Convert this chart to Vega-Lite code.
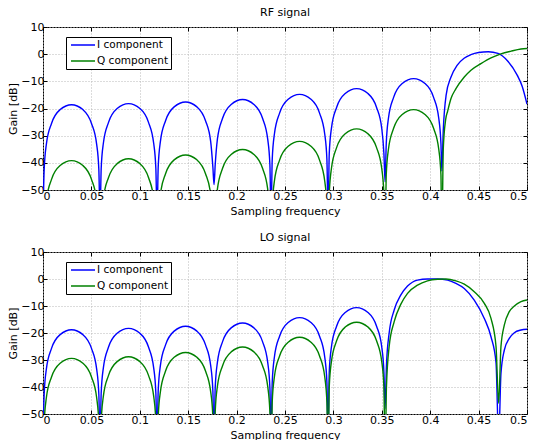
{
  "$schema": "https://vega.github.io/schema/vega-lite/v6.json",
  "padding": {"left": 7, "top": 6, "right": 5, "bottom": 5},
  "spacing": 62,
  "bounds": "flush",
  "config": {
    "font": "DejaVu Sans",
    "view": {"stroke": "black", "strokeWidth": 1},
    "axis": {"labelFontSize": 11, "titleFontSize": 11, "titleFontWeight": "normal", "labelColor": "black", "titleColor": "black", "tickColor": "black", "domain": false, "grid": true, "gridColor": "#b8b8b8", "gridDash": [1, 2], "tickSize": -4},
    "axisX": {"labelPadding": 4, "titlePadding": 4},
    "axisY": {"labelPadding": 3, "titlePadding": 2},
    "title": {"fontSize": 11, "fontWeight": "normal", "color": "black", "offset": 3},
    "legend": {"orient": "none", "legendX": 23, "legendY": 10, "symbolType": "stroke", "symbolSize": 576, "symbolStrokeWidth": 1.5, "strokeColor": "black", "fillColor": "white", "padding": 2, "symbolOffset": 2, "labelFontSize": 10.5, "labelOffset": 1, "rowPadding": 4, "clipHeight": 12, "labelColor": "black"}
  },
  "datasets": {
    "rf": [
      {"c":"I","f":0,"g":-60},{"c":"I","f":0.0012,"g":-42.6},{"c":"I","f":0.0035,"g":-33.1},{"c":"I","f":0.0088,"g":-25.5},{"c":"I","f":0.0177,"g":-20.4},{"c":"I","f":0.0295,"g":-18.6},{"c":"I","f":0.0412,"g":-20.4},{"c":"I","f":0.0501,"g":-25.5},{"c":"I","f":0.0554,"g":-33.1},{"c":"I","f":0.0577,"g":-42.6},
      {"c":"I","f":0.0589,"g":-60},{"c":"I","f":0.0601,"g":-42.2},{"c":"I","f":0.0624,"g":-32.7},{"c":"I","f":0.0677,"g":-25.1},{"c":"I","f":0.0766,"g":-20.0},{"c":"I","f":0.0884,"g":-18.2},{"c":"I","f":0.1001,"g":-20.0},{"c":"I","f":0.109,"g":-25.1},{"c":"I","f":0.1143,"g":-32.7},{"c":"I","f":0.1166,"g":-42.2},
      {"c":"I","f":0.1178,"g":-60},{"c":"I","f":0.119,"g":-41.6},{"c":"I","f":0.1213,"g":-32.1},{"c":"I","f":0.1266,"g":-24.5},{"c":"I","f":0.1355,"g":-19.4},{"c":"I","f":0.1473,"g":-17.6},{"c":"I","f":0.159,"g":-19.4},{"c":"I","f":0.1679,"g":-24.5},{"c":"I","f":0.1732,"g":-32.1},{"c":"I","f":0.1755,"g":-41.6},
      {"c":"I","f":0.1767,"g":-48},{"c":"I","f":0.1779,"g":-40.7},{"c":"I","f":0.1802,"g":-31.2},{"c":"I","f":0.1855,"g":-23.6},{"c":"I","f":0.1944,"g":-18.5},{"c":"I","f":0.2062,"g":-16.7},{"c":"I","f":0.2179,"g":-18.5},{"c":"I","f":0.2268,"g":-23.6},{"c":"I","f":0.2321,"g":-31.2},{"c":"I","f":0.2344,"g":-40.7},
      {"c":"I","f":0.2356,"g":-60},{"c":"I","f":0.2368,"g":-38.8},{"c":"I","f":0.2391,"g":-29.3},{"c":"I","f":0.2444,"g":-21.7},{"c":"I","f":0.2533,"g":-16.6},{"c":"I","f":0.2651,"g":-14.8},{"c":"I","f":0.2768,"g":-16.6},{"c":"I","f":0.2857,"g":-21.7},{"c":"I","f":0.291,"g":-29.3},{"c":"I","f":0.2933,"g":-38.8},
      {"c":"I","f":0.2945,"g":-60},{"c":"I","f":0.2957,"g":-36.7},{"c":"I","f":0.298,"g":-27.2},{"c":"I","f":0.3033,"g":-19.6},{"c":"I","f":0.3122,"g":-14.5},{"c":"I","f":0.324,"g":-12.7},{"c":"I","f":0.3357,"g":-14.5},{"c":"I","f":0.3446,"g":-19.6},{"c":"I","f":0.3499,"g":-27.2},{"c":"I","f":0.3522,"g":-36.7},
      {"c":"I","f":0.3534,"g":-47},{"c":"I","f":0.3546,"g":-33.0},{"c":"I","f":0.3569,"g":-23.5},{"c":"I","f":0.3622,"g":-15.9},{"c":"I","f":0.3711,"g":-10.8},{"c":"I","f":0.3829,"g":-9.0},{"c":"I","f":0.3946,"g":-10.8},{"c":"I","f":0.4035,"g":-15.9},{"c":"I","f":0.4088,"g":-23.5},{"c":"I","f":0.4111,"g":-33.0},
      {"c":"I","f":0.412,"g":-43},{"c":"I","f":0.4135,"g":-28},{"c":"I","f":0.4165,"g":-15},{"c":"I","f":0.4214,"g":-8.5},{"c":"I","f":0.428,"g":-4},{"c":"I","f":0.435,"g":-1.5},{"c":"I","f":0.442,"g":-0.2},{"c":"I","f":0.45,"g":0.6},{"c":"I","f":0.46,"g":0.9},{"c":"I","f":0.47,"g":0.3},{"c":"I","f":0.48,"g":-2.5},{"c":"I","f":0.49,"g":-7.8},{"c":"I","f":0.495,"g":-11.8},{"c":"I","f":0.5,"g":-18.4},
      {"c":"Q","f":0,"g":-70},{"c":"Q","f":0.0012,"g":-63.2},{"c":"Q","f":0.0035,"g":-53.7},{"c":"Q","f":0.0088,"g":-46.1},{"c":"Q","f":0.0177,"g":-41.0},{"c":"Q","f":0.0295,"g":-39.2},{"c":"Q","f":0.0412,"g":-41.0},{"c":"Q","f":0.0501,"g":-46.1},{"c":"Q","f":0.0554,"g":-53.7},{"c":"Q","f":0.0577,"g":-63.2},
      {"c":"Q","f":0.0589,"g":-70},{"c":"Q","f":0.0601,"g":-62.5},{"c":"Q","f":0.0624,"g":-53.0},{"c":"Q","f":0.0677,"g":-45.4},{"c":"Q","f":0.0766,"g":-40.3},{"c":"Q","f":0.0884,"g":-38.5},{"c":"Q","f":0.1001,"g":-40.3},{"c":"Q","f":0.109,"g":-45.4},{"c":"Q","f":0.1143,"g":-53.0},{"c":"Q","f":0.1166,"g":-62.5},
      {"c":"Q","f":0.1178,"g":-70},{"c":"Q","f":0.119,"g":-61.1},{"c":"Q","f":0.1213,"g":-51.6},{"c":"Q","f":0.1266,"g":-44.0},{"c":"Q","f":0.1355,"g":-38.9},{"c":"Q","f":0.1473,"g":-37.1},{"c":"Q","f":0.159,"g":-38.9},{"c":"Q","f":0.1679,"g":-44.0},{"c":"Q","f":0.1732,"g":-51.6},{"c":"Q","f":0.1755,"g":-61.1},
      {"c":"Q","f":0.1767,"g":-70},{"c":"Q","f":0.1779,"g":-59.1},{"c":"Q","f":0.1802,"g":-49.6},{"c":"Q","f":0.1855,"g":-42.0},{"c":"Q","f":0.1944,"g":-36.9},{"c":"Q","f":0.2062,"g":-35.1},{"c":"Q","f":0.2179,"g":-36.9},{"c":"Q","f":0.2268,"g":-42.0},{"c":"Q","f":0.2321,"g":-49.6},{"c":"Q","f":0.2344,"g":-59.1},
      {"c":"Q","f":0.2356,"g":-70},{"c":"Q","f":0.2368,"g":-56.1},{"c":"Q","f":0.2391,"g":-46.6},{"c":"Q","f":0.2444,"g":-39.0},{"c":"Q","f":0.2533,"g":-33.9},{"c":"Q","f":0.2651,"g":-32.1},{"c":"Q","f":0.2768,"g":-33.9},{"c":"Q","f":0.2857,"g":-39.0},{"c":"Q","f":0.291,"g":-46.6},{"c":"Q","f":0.2933,"g":-56.1},
      {"c":"Q","f":0.2945,"g":-70},{"c":"Q","f":0.2957,"g":-51.5},{"c":"Q","f":0.298,"g":-42.0},{"c":"Q","f":0.3033,"g":-34.4},{"c":"Q","f":0.3122,"g":-29.3},{"c":"Q","f":0.324,"g":-27.5},{"c":"Q","f":0.3357,"g":-29.3},{"c":"Q","f":0.3446,"g":-34.4},{"c":"Q","f":0.3499,"g":-42.0},{"c":"Q","f":0.3522,"g":-51.5},
      {"c":"Q","f":0.3534,"g":-70},{"c":"Q","f":0.3546,"g":-44.4},{"c":"Q","f":0.3569,"g":-34.9},{"c":"Q","f":0.3622,"g":-27.3},{"c":"Q","f":0.3711,"g":-22.2},{"c":"Q","f":0.3829,"g":-20.4},{"c":"Q","f":0.3946,"g":-22.2},{"c":"Q","f":0.4035,"g":-27.3},{"c":"Q","f":0.4088,"g":-34.9},{"c":"Q","f":0.4111,"g":-44.4},
      {"c":"Q","f":0.412,"g":-70},{"c":"Q","f":0.4135,"g":-35},{"c":"Q","f":0.416,"g":-24},{"c":"Q","f":0.418,"g":-21},{"c":"Q","f":0.4214,"g":-16.4},{"c":"Q","f":0.4266,"g":-12.7},{"c":"Q","f":0.4352,"g":-8.4},{"c":"Q","f":0.4421,"g":-5.9},{"c":"Q","f":0.4524,"g":-3.5},{"c":"Q","f":0.4628,"g":-1.4},{"c":"Q","f":0.4731,"g":0.1},{"c":"Q","f":0.4835,"g":1.1},{"c":"Q","f":0.4938,"g":1.9},{"c":"Q","f":0.5,"g":2.1}
    ],
    "lo": [
      {"c":"I","f":0,"g":-60},{"c":"I","f":0.0012,"g":-42.8},{"c":"I","f":0.0035,"g":-33.3},{"c":"I","f":0.0088,"g":-25.7},{"c":"I","f":0.0177,"g":-20.6},{"c":"I","f":0.0295,"g":-18.8},{"c":"I","f":0.0412,"g":-20.6},{"c":"I","f":0.0501,"g":-25.7},{"c":"I","f":0.0554,"g":-33.3},{"c":"I","f":0.0577,"g":-42.8},
      {"c":"I","f":0.0589,"g":-60},{"c":"I","f":0.0601,"g":-42.3},{"c":"I","f":0.0624,"g":-32.8},{"c":"I","f":0.0677,"g":-25.2},{"c":"I","f":0.0766,"g":-20.1},{"c":"I","f":0.0884,"g":-18.3},{"c":"I","f":0.1001,"g":-20.1},{"c":"I","f":0.109,"g":-25.2},{"c":"I","f":0.1143,"g":-32.8},{"c":"I","f":0.1166,"g":-42.3},
      {"c":"I","f":0.1178,"g":-60},{"c":"I","f":0.119,"g":-41.5},{"c":"I","f":0.1213,"g":-32.0},{"c":"I","f":0.1266,"g":-24.4},{"c":"I","f":0.1355,"g":-19.3},{"c":"I","f":0.1473,"g":-17.5},{"c":"I","f":0.159,"g":-19.3},{"c":"I","f":0.1679,"g":-24.4},{"c":"I","f":0.1732,"g":-32.0},{"c":"I","f":0.1755,"g":-41.5},
      {"c":"I","f":0.1767,"g":-60},{"c":"I","f":0.1779,"g":-40.3},{"c":"I","f":0.1802,"g":-30.8},{"c":"I","f":0.1855,"g":-23.2},{"c":"I","f":0.1944,"g":-18.1},{"c":"I","f":0.2062,"g":-16.3},{"c":"I","f":0.2179,"g":-18.1},{"c":"I","f":0.2268,"g":-23.2},{"c":"I","f":0.2321,"g":-30.8},{"c":"I","f":0.2344,"g":-40.3},
      {"c":"I","f":0.2356,"g":-60},{"c":"I","f":0.2368,"g":-38.3},{"c":"I","f":0.2391,"g":-28.8},{"c":"I","f":0.2444,"g":-21.2},{"c":"I","f":0.2533,"g":-16.1},{"c":"I","f":0.2651,"g":-14.3},{"c":"I","f":0.2768,"g":-16.1},{"c":"I","f":0.2857,"g":-21.2},{"c":"I","f":0.291,"g":-28.8},{"c":"I","f":0.2933,"g":-38.3},
      {"c":"I","f":0.2945,"g":-60},{"c":"I","f":0.2957,"g":-34.6},{"c":"I","f":0.298,"g":-25.1},{"c":"I","f":0.3033,"g":-17.5},{"c":"I","f":0.3122,"g":-12.4},{"c":"I","f":0.324,"g":-10.6},{"c":"I","f":0.3357,"g":-12.4},{"c":"I","f":0.3446,"g":-17.5},{"c":"I","f":0.3499,"g":-25.1},{"c":"I","f":0.3522,"g":-34.6},
      {"c":"I","f":0.3534,"g":-48},{"c":"I","f":0.3548,"g":-32},{"c":"I","f":0.3576,"g":-20},{"c":"I","f":0.3628,"g":-11.5},{"c":"I","f":0.3697,"g":-5.9},{"c":"I","f":0.3766,"g":-2.6},{"c":"I","f":0.3869,"g":-0.4},{"c":"I","f":0.3972,"g":0},{"c":"I","f":0.4076,"g":0},{"c":"I","f":0.418,"g":-0.4},{"c":"I","f":0.4266,"g":-1.6},{"c":"I","f":0.4352,"g":-3.5},{"c":"I","f":0.4455,"g":-7.8},{"c":"I","f":0.4559,"g":-14.6},{"c":"I","f":0.4628,"g":-21.4},{"c":"I","f":0.468,"g":-31},
      {"c":"I","f":0.4707,"g":-60},{"c":"I","f":0.4731,"g":-35},{"c":"I","f":0.4766,"g":-26.3},{"c":"I","f":0.4817,"g":-22},{"c":"I","f":0.4869,"g":-19.9},{"c":"I","f":0.4938,"g":-18.9},{"c":"I","f":0.5,"g":-18.6},
      {"c":"Q","f":0,"g":-70},{"c":"Q","f":0.0012,"g":-53.4},{"c":"Q","f":0.0035,"g":-43.9},{"c":"Q","f":0.0088,"g":-36.3},{"c":"Q","f":0.0177,"g":-31.2},{"c":"Q","f":0.0295,"g":-29.4},{"c":"Q","f":0.0412,"g":-31.2},{"c":"Q","f":0.0501,"g":-36.3},{"c":"Q","f":0.0554,"g":-43.9},{"c":"Q","f":0.0577,"g":-53.4},
      {"c":"Q","f":0.0589,"g":-70},{"c":"Q","f":0.0601,"g":-52.8},{"c":"Q","f":0.0624,"g":-43.3},{"c":"Q","f":0.0677,"g":-35.7},{"c":"Q","f":0.0766,"g":-30.6},{"c":"Q","f":0.0884,"g":-28.8},{"c":"Q","f":0.1001,"g":-30.6},{"c":"Q","f":0.109,"g":-35.7},{"c":"Q","f":0.1143,"g":-43.3},{"c":"Q","f":0.1166,"g":-52.8},
      {"c":"Q","f":0.1178,"g":-70},{"c":"Q","f":0.119,"g":-51.2},{"c":"Q","f":0.1213,"g":-41.7},{"c":"Q","f":0.1266,"g":-34.1},{"c":"Q","f":0.1355,"g":-29.0},{"c":"Q","f":0.1473,"g":-27.2},{"c":"Q","f":0.159,"g":-29.0},{"c":"Q","f":0.1679,"g":-34.1},{"c":"Q","f":0.1732,"g":-41.7},{"c":"Q","f":0.1755,"g":-51.2},
      {"c":"Q","f":0.1767,"g":-70},{"c":"Q","f":0.1779,"g":-49.2},{"c":"Q","f":0.1802,"g":-39.7},{"c":"Q","f":0.1855,"g":-32.1},{"c":"Q","f":0.1944,"g":-27.0},{"c":"Q","f":0.2062,"g":-25.2},{"c":"Q","f":0.2179,"g":-27.0},{"c":"Q","f":0.2268,"g":-32.1},{"c":"Q","f":0.2321,"g":-39.7},{"c":"Q","f":0.2344,"g":-49.2},
      {"c":"Q","f":0.2356,"g":-70},{"c":"Q","f":0.2368,"g":-45.6},{"c":"Q","f":0.2391,"g":-36.1},{"c":"Q","f":0.2444,"g":-28.5},{"c":"Q","f":0.2533,"g":-23.4},{"c":"Q","f":0.2651,"g":-21.6},{"c":"Q","f":0.2768,"g":-23.4},{"c":"Q","f":0.2857,"g":-28.5},{"c":"Q","f":0.291,"g":-36.1},{"c":"Q","f":0.2933,"g":-45.6},
      {"c":"Q","f":0.2945,"g":-70},{"c":"Q","f":0.2957,"g":-40.0},{"c":"Q","f":0.298,"g":-30.5},{"c":"Q","f":0.3033,"g":-22.9},{"c":"Q","f":0.3122,"g":-17.8},{"c":"Q","f":0.324,"g":-16.0},{"c":"Q","f":0.3357,"g":-17.8},{"c":"Q","f":0.3446,"g":-22.9},{"c":"Q","f":0.3499,"g":-30.5},{"c":"Q","f":0.3522,"g":-40.0},
      {"c":"Q","f":0.3534,"g":-70},{"c":"Q","f":0.3548,"g":-40},{"c":"Q","f":0.3576,"g":-25},{"c":"Q","f":0.3628,"g":-15.8},{"c":"Q","f":0.3697,"g":-9.3},{"c":"Q","f":0.3766,"g":-5.3},{"c":"Q","f":0.3869,"g":-2.3},{"c":"Q","f":0.3972,"g":-0.7},{"c":"Q","f":0.4076,"g":-0.1},{"c":"Q","f":0.4162,"g":0},{"c":"Q","f":0.4266,"g":-0.7},{"c":"Q","f":0.4352,"g":-1.9},{"c":"Q","f":0.4455,"g":-4.7},{"c":"Q","f":0.4559,"g":-9.0},{"c":"Q","f":0.4628,"g":-14.6},{"c":"Q","f":0.468,"g":-25},
      {"c":"Q","f":0.4707,"g":-46},{"c":"Q","f":0.4731,"g":-25},{"c":"Q","f":0.4766,"g":-17},{"c":"Q","f":0.4817,"g":-12.1},{"c":"Q","f":0.4869,"g":-10},{"c":"Q","f":0.4938,"g":-8.4},{"c":"Q","f":0.5,"g":-7.8}
    ]
  },
  "vconcat": [
    {
      "title": {"text": "RF signal"},
      "width": 484,
      "height": 163,
      "data": {"name": "rf"},
      "resolve": {"axis": {"x": "independent", "y": "independent"}},
      "layer": [
        {
          "mark": {"type": "line", "strokeWidth": 1.4, "clip": true, "interpolate": "monotone"},
          "encoding": {
            "x": {"field": "f", "type": "quantitative", "scale": {"domain": [0, 0.5], "nice": false, "zero": false}, "axis": {"orient": "bottom", "values": [0, 0.05, 0.1, 0.15, 0.2, 0.25, 0.3, 0.35, 0.4, 0.45, 0.5], "format": "~g", "title": "Sampling frequency"}},
            "y": {"field": "g", "type": "quantitative", "scale": {"domain": [-50, 10], "nice": false}, "axis": {"orient": "left", "values": [-50, -40, -30, -20, -10, 0, 10], "title": "Gain [dB]"}},
            "color": {"field": "c", "type": "nominal", "scale": {"domain": ["I", "Q"], "range": ["#0000ff", "#008000"]}, "legend": {"title": null, "labelExpr": "datum.label + ' component'"}}
          }
        },
        {
          "mark": {"type": "line", "strokeOpacity": 0},
          "encoding": {
            "x": {"field": "f", "type": "quantitative", "axis": {"orient": "top", "values": [0, 0.05, 0.1, 0.15, 0.2, 0.25, 0.3, 0.35, 0.4, 0.45, 0.5], "labels": false, "title": null, "grid": false}},
            "y": {"field": "g", "type": "quantitative", "axis": {"orient": "right", "values": [-50, -40, -30, -20, -10, 0, 10], "labels": false, "title": null, "grid": false}}
          }
        }
      ]
    },
    {
      "title": {"text": "LO signal"},
      "width": 484,
      "height": 162,
      "data": {"name": "lo"},
      "resolve": {"axis": {"x": "independent", "y": "independent"}},
      "layer": [
        {
          "mark": {"type": "line", "strokeWidth": 1.4, "clip": true, "interpolate": "monotone"},
          "encoding": {
            "x": {"field": "f", "type": "quantitative", "scale": {"domain": [0, 0.5], "nice": false, "zero": false}, "axis": {"orient": "bottom", "values": [0, 0.05, 0.1, 0.15, 0.2, 0.25, 0.3, 0.35, 0.4, 0.45, 0.5], "format": "~g", "title": "Sampling frequency"}},
            "y": {"field": "g", "type": "quantitative", "scale": {"domain": [-50, 10], "nice": false}, "axis": {"orient": "left", "values": [-50, -40, -30, -20, -10, 0, 10], "title": "Gain [dB]"}},
            "color": {"field": "c", "type": "nominal", "scale": {"domain": ["I", "Q"], "range": ["#0000ff", "#008000"]}, "legend": {"title": null, "labelExpr": "datum.label + ' component'"}}
          }
        },
        {
          "mark": {"type": "line", "strokeOpacity": 0},
          "encoding": {
            "x": {"field": "f", "type": "quantitative", "axis": {"orient": "top", "values": [0, 0.05, 0.1, 0.15, 0.2, 0.25, 0.3, 0.35, 0.4, 0.45, 0.5], "labels": false, "title": null, "grid": false}},
            "y": {"field": "g", "type": "quantitative", "axis": {"orient": "right", "values": [-50, -40, -30, -20, -10, 0, 10], "labels": false, "title": null, "grid": false}}
          }
        }
      ]
    }
  ],
  "resolve": {"scale": {"color": "independent"}}
}
